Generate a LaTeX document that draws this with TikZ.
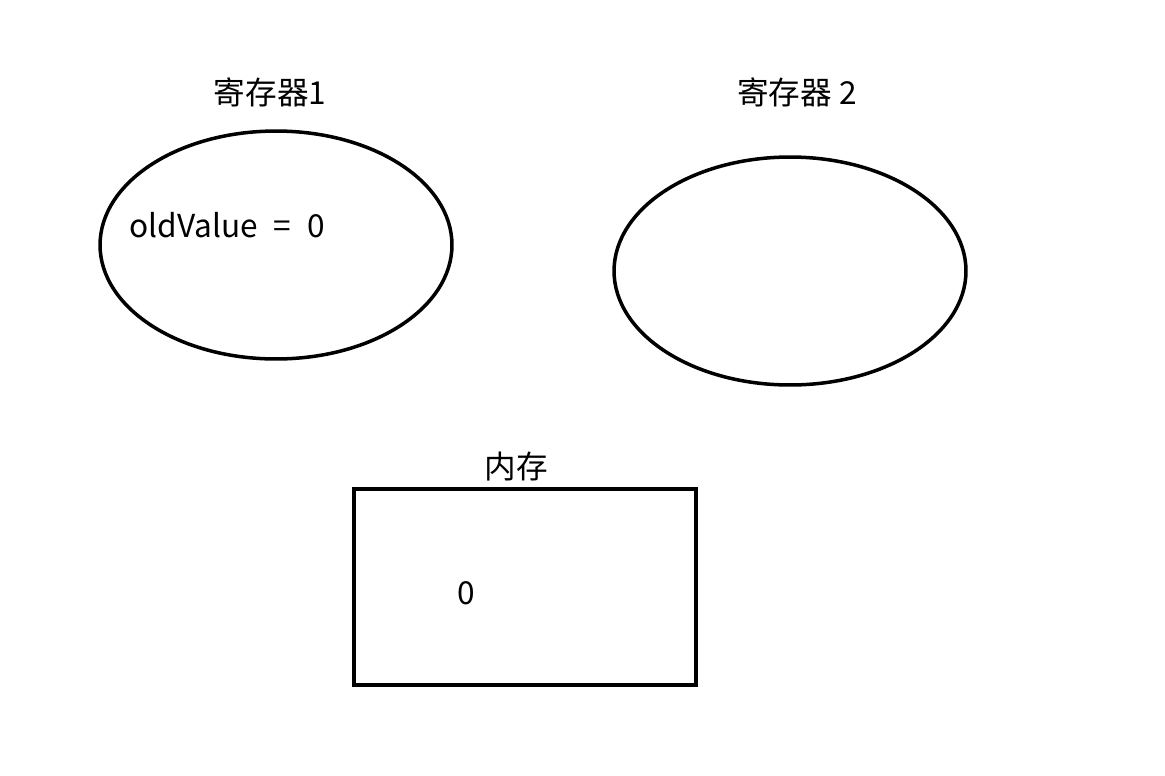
\documentclass[tikz,border=0pt]{standalone}
\usepackage{fontspec}
\setmainfont{Noto Sans CJK SC}
\usetikzlibrary{shapes.geometric,positioning}

\begin{document}
\begin{tikzpicture}[
  x=0.02cm, y=-0.02cm,
  line/.style={draw=black, line width=2pt},
  reg/.style={line, ellipse, minimum width=7.04cm, minimum height=4.56cm, inner sep=0pt},
  mem/.style={draw=black, line width=2.5pt, rectangle, minimum width=6.84cm, minimum height=3.92cm, inner sep=0pt},
  title/.style={font=\fontsize{18}{21}\selectfont, inner sep=0pt}
]
\useasboundingbox (0,0) rectangle (1165,775);

\node[reg] (reg1) at (276,245) {};
\node[reg] (reg2) at (790,271) {};
\node[mem] (mem) at (525,587) {};

\node[title] (reg1name) at (270,92) {寄存器1};
\node[title] (reg2name) at (797,92) {寄存器 2};
\node[title] (memname) at (516,467) {内存};

\node[title, anchor=west] (oldval) at (129,225) {oldValue\hspace{0.5em}=\hspace{0.5em}0};
\node[title] (memval) at (466,593) {0};

\end{tikzpicture}
\end{document}
